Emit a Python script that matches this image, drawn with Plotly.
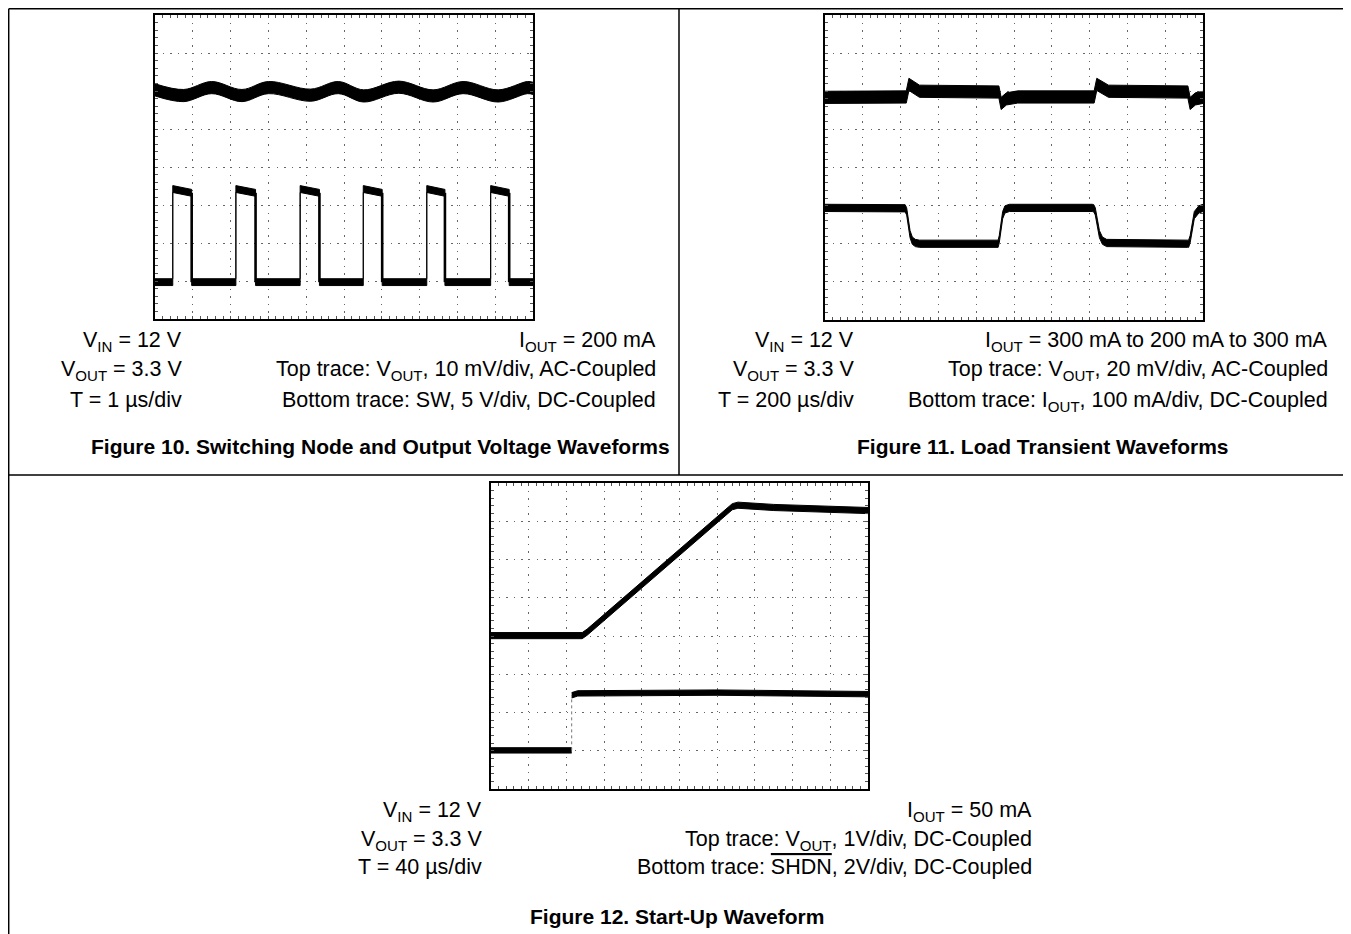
import plotly.graph_objects as go

W, H = 1351, 934
OFF = 8  # the page body margin that shifts the figure inside the window

# ---------------- data (scope divisions: x 0..10, y 0..8) ----------------
# Figure 10 - switching node and output voltage
fig10_vout_t = [0.0, 0.76, 1.5, 2.3, 3.0, 4.12, 4.85, 5.52, 6.45, 7.36, 8.15, 9.08, 9.85, 10.0]
fig10_vout_v = [6.03, 5.88, 6.09, 5.88, 6.09, 5.89, 6.09, 5.87, 6.1, 5.87, 6.09, 5.87, 6.09, 6.07]
fig10_vout_noise = 0.32
fig10_sw_rise = [0.47, 2.14, 3.84, 5.51, 7.19, 8.88]
fig10_sw_fall = [0.97, 2.66, 4.35, 6.01, 7.67, 9.37]
fig10_sw_low = 0.97
fig10_sw_high_start = 3.42
fig10_sw_high_end = 3.32
fig10_sw_noise = 0.18

# Figure 11 - load transient
fig11_vout_t = [0.0, 2.15, 2.22, 2.5, 4.6, 4.66, 4.8, 5.1, 7.12, 7.19, 7.5, 9.6, 9.66, 9.8, 10.0]
fig11_vout_v = [5.84, 5.85, 6.18, 6.0, 5.98, 5.68, 5.8, 5.85, 5.85, 6.18, 6.0, 5.98, 5.68, 5.8, 5.84]
fig11_vout_noise = 0.32
fig11_iout_t = [0.0, 2.12, 2.16, 2.2, 2.25, 2.31, 2.39, 2.5, 4.58, 4.61, 4.65, 4.7, 4.76, 4.88,
                7.07, 7.11, 7.15, 7.2, 7.26, 7.34, 7.45, 9.59, 9.62, 9.66, 9.71, 9.77, 9.89, 10.0]
fig11_iout_v = [2.94, 2.93, 2.85, 2.55, 2.25, 2.08, 2.02, 2.0, 2.0, 2.12, 2.45, 2.75, 2.9, 2.94,
                2.94, 2.93, 2.85, 2.55, 2.25, 2.08, 2.02, 2.0, 2.0, 2.12, 2.45, 2.75, 2.9, 2.94]
fig11_iout_noise = 0.19

# Figure 12 - start-up
fig12_vout_t = [0.0, 2.42, 2.55, 6.4, 6.55, 7.5, 10.0]
fig12_vout_v = [4.01, 4.01, 4.1, 7.38, 7.42, 7.36, 7.28]
fig12_vout_noise = 0.16
fig12_shdn_low_t = [0.0, 2.14]
fig12_shdn_low_v = [1.01, 1.01]
fig12_shdn_high_t = [2.14, 2.3, 6.0, 10.0]
fig12_shdn_high_v = [2.45, 2.5, 2.52, 2.48]
fig12_shdn_noise = 0.14

# ---------------- layout geometry (window pixels) ----------------
PANELS = {1: (155, 533, 15, 319), 2: (825, 1203, 15, 320), 3: (491, 868, 483, 789)}
FONT = "Liberation Sans, Arial, sans-serif"
FS = 21.5
FS_TITLE = 21


def px(x):
    return (x - OFF) / W


def py(y):
    return 1 - (y - OFF) / H


def ax(n):
    return ("x", "y") if n == 1 else (f"x{n}", f"y{n}")


fig = go.Figure()


def band(t, v, pp, n, shape="linear"):
    xa, ya = ax(n)
    up = [a + pp / 2 for a in v]
    lo = [a - pp / 2 for a in v]
    fig.add_trace(go.Scatter(x=t, y=up, mode="lines", xaxis=xa, yaxis=ya,
                             line=dict(color="black", width=1, shape=shape),
                             showlegend=False, hoverinfo="skip"))
    fig.add_trace(go.Scatter(x=t, y=lo, mode="lines", xaxis=xa, yaxis=ya, fill="tonexty",
                             fillcolor="black", line=dict(color="black", width=1, shape=shape),
                             showlegend=False, hoverinfo="skip"))


def edge(t, v, n, color, width, dash="solid"):
    xa, ya = ax(n)
    fig.add_trace(go.Scatter(x=t, y=v, mode="lines", xaxis=xa, yaxis=ya,
                             line=dict(color=color, width=width, dash=dash),
                             showlegend=False, hoverinfo="skip", connectgaps=False))


# square wave of figure 10 from its edge times
sw_t, sw_v = [0.0], [fig10_sw_low]
for r, f in zip(fig10_sw_rise, fig10_sw_fall):
    sw_t += [r, r, f, f]
    sw_v += [fig10_sw_low, fig10_sw_high_start, fig10_sw_high_end, fig10_sw_low]
sw_t.append(10.0)
sw_v.append(fig10_sw_low)

band(fig10_vout_t, fig10_vout_v, fig10_vout_noise, 1, "spline")
band(sw_t, sw_v, fig10_sw_noise, 1)
# falling edges of the switch node look heavier than the rising ones
fall_t, fall_v = [], []
for f in fig10_sw_fall:
    fall_t += [f, f, None]
    fall_v += [fig10_sw_high_end, fig10_sw_low, None]
edge(fall_t, fall_v, 1, "black", 2.6)

band(fig11_vout_t, fig11_vout_v, fig11_vout_noise, 2)
band(fig11_iout_t, fig11_iout_v, fig11_iout_noise, 2)

band(fig12_vout_t, fig12_vout_v, fig12_vout_noise, 3)
band(fig12_shdn_low_t, fig12_shdn_low_v, fig12_shdn_noise, 3)
band(fig12_shdn_high_t, fig12_shdn_high_v, fig12_shdn_noise, 3)
edge([fig12_shdn_low_t[-1], fig12_shdn_high_t[0]], [fig12_shdn_low_v[-1], fig12_shdn_high_v[0]],
     3, "#777", 1, "dot")

GRID = dict(showgrid=True, gridcolor="#666", gridwidth=1.3, griddash="1.4px,6.2px",
            showline=True, linecolor="black", linewidth=2, mirror="allticks",
            ticks="inside", ticklen=3, tickcolor="#555", tickwidth=1,
            showticklabels=False, zeroline=False, dtick=1, tick0=0, fixedrange=True,
            minor=dict(dtick=0.2, ticks="inside", ticklen=3, tickcolor="#555", showgrid=False))

layout = dict(width=W, height=H, margin=dict(l=0, r=0, t=0, b=0),
              paper_bgcolor="white", plot_bgcolor="white", showlegend=False)

extra = 4
for n, (x0, x1, y0, y1) in PANELS.items():
    xs = "xaxis" if n == 1 else f"xaxis{n}"
    ys = "yaxis" if n == 1 else f"yaxis{n}"
    xr, yr = ax(n)
    layout[xs] = dict(domain=[px(x0), px(x1)], range=[0, 10], anchor=yr, **GRID)
    layout[ys] = dict(domain=[py(y1), py(y0)], range=[0, 8], anchor=xr, **GRID)
    # centre cross-hair tick marks
    cy = (py(y1) + py(y0)) / 2
    cx = (px(x0) + px(x1)) / 2
    for side in ("inside", "outside"):
        layout[f"xaxis{extra}"] = dict(overlaying=xr, anchor="free", position=cy, range=[0, 10],
                                       showgrid=False, showline=False, zeroline=False,
                                       showticklabels=False, ticks=side, ticklen=3, dtick=1,
                                       tick0=0, tickcolor="#555", fixedrange=True,
                                       minor=dict(dtick=0.2, ticks=side, ticklen=3, tickcolor="#555"))
        layout[f"yaxis{extra}"] = dict(overlaying=yr, anchor="free", position=cx, range=[0, 8],
                                       showgrid=False, showline=False, zeroline=False,
                                       showticklabels=False, ticks=side, ticklen=3, dtick=1,
                                       tick0=0, tickcolor="#555", fixedrange=True,
                                       minor=dict(dtick=0.2, ticks=side, ticklen=3, tickcolor="#555"))
        extra += 1

fig.update_layout(**layout)

# page frame lines (window pixels)
frame = [(8.7, 8.7, W + OFF, 8.7), (8.7, 8.7, 8.7, H + OFF), (679, 8.7, 679, 475), (8.7, 475, W + OFF, 475)]
for xa, ya, xb, yb in frame:
    fig.add_shape(type="line", xref="paper", yref="paper", x0=px(xa), y0=py(ya), x1=px(xb), y1=py(yb),
                  line=dict(color="black", width=1.5))


def text(s, x, centre, anchor="right", bold=False):
    fs = FS_TITLE if bold else FS
    baseline = centre + 6
    top = baseline - 0.93 * fs
    fig.add_annotation(xref="paper", yref="paper", x=px(x), y=py(top), xanchor=anchor, yanchor="top",
                       text=f"<b>{s}</b>" if bold else s, showarrow=False,
                       font=dict(family=FONT, size=fs, color="black"))


# Figure 10 captions
text("V<sub>IN</sub> = 12 V", 184, 340)
text("V<sub>OUT</sub> = 3.3 V", 184, 369)
text("T = 1 µs/div", 184, 400)
text("I<sub>OUT</sub> = 200 mA", 658, 340)
text("Top trace: V<sub>OUT</sub>, 10 mV/div, AC-Coupled", 658, 369)
text("Bottom trace: SW, 5 V/div, DC-Coupled", 658, 400)
text("Figure 10. Switching Node and Output Voltage Waveforms", 381, 447, "center", True)

# Figure 11 captions
text("V<sub>IN</sub> = 12 V", 856, 340)
text("V<sub>OUT</sub> = 3.3 V", 856, 369)
text("T = 200 µs/div", 856, 400)
text("I<sub>OUT</sub> = 300 mA to 200 mA to 300 mA", 1330, 340)
text("Top trace: V<sub>OUT</sub>, 20 mV/div, AC-Coupled", 1330, 369)
text("Bottom trace: I<sub>OUT</sub>, 100 mA/div, DC-Coupled", 1330, 400)
text("Figure 11. Load Transient Waveforms", 1043, 447, "center", True)

# Figure 12 captions
text("V<sub>IN</sub> = 12 V", 484, 810)
text("V<sub>OUT</sub> = 3.3 V", 484, 839)
text("T = 40 µs/div", 484, 867)
text("I<sub>OUT</sub> = 50 mA", 1034, 810)
text("Top trace: V<sub>OUT</sub>, 1V/div, DC-Coupled", 1034, 839)
text('Bottom trace: <span style="text-decoration:overline">SHDN</span>, 2V/div, DC-Coupled', 1034, 867)
text("Figure 12. Start-Up Waveform", 677, 917, "center", True)

fig.write_html("out.html")
